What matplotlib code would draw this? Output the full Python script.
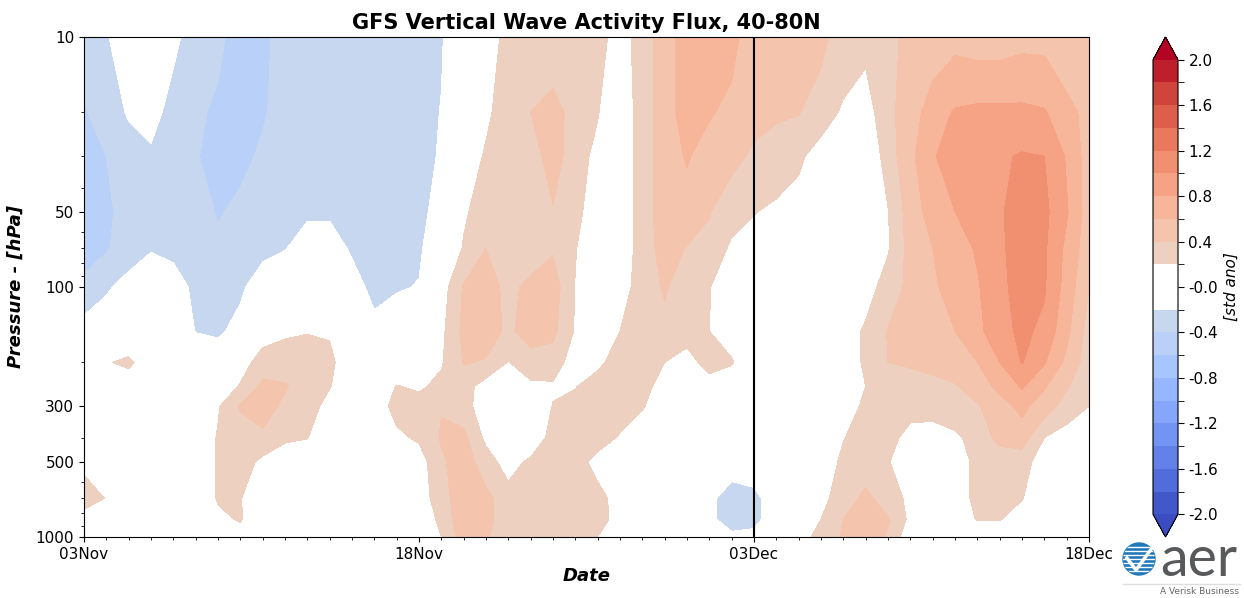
import numpy as np
import matplotlib
matplotlib.use("Agg")
import matplotlib.pyplot as plt
from matplotlib.colors import ListedColormap, BoundaryNorm
from matplotlib.ticker import FixedLocator, NullFormatter, MultipleLocator
from matplotlib.patches import Ellipse
from matplotlib.lines import Line2D

# x = days since 03Nov, y = pressure levels (hPa)
days = np.arange(46)
pressure = [10, 20, 30, 50, 70, 100, 150, 200, 250, 300, 400, 500, 700, 850, 1000]
date_ticks = [0, 15, 30, 45]
date_labels = ["03Nov", "18Nov", "03Dec", "18Dec"]
pres_ticks = [10, 50, 100, 300, 500, 1000]
today = 30  # 03Dec, analysis / forecast split

# standardized anomaly of vertical wave activity flux, one list per day (10 -> 1000 hPa)
flux = [
    [-0.30, -0.42, -0.50, -0.55, -0.48, -0.35, -0.10, 0.00, 0.00, 0.00, 0.05, 0.15, 0.30, 0.10, 0.00],
    [-0.22, -0.30, -0.40, -0.45, -0.42, -0.23, -0.05, 0.18, 0.05, 0.00, 0.00, 0.05, 0.19, 0.05, 0.00],
    [-0.05, -0.18, -0.30, -0.30, -0.30, -0.12, 0.00, 0.25, 0.05, 0.00, 0.00, 0.00, 0.05, 0.00, 0.00],
    [0.00, -0.10, -0.25, -0.30, -0.21, -0.10, 0.00, 0.05, 0.00, 0.00, 0.00, 0.00, 0.00, 0.00, 0.00],
    [-0.15, -0.30, -0.30, -0.30, -0.30, 0.00, 0.00, 0.00, 0.00, 0.00, 0.00, 0.00, 0.00, 0.00, 0.00],
    [-0.30, -0.35, -0.38, -0.30, -0.30, -0.30, -0.21, 0.00, 0.00, 0.00, 0.00, 0.00, 0.00, 0.00, 0.00],
    [-0.35, -0.45, -0.50, -0.42, -0.35, -0.35, -0.25, 0.00, 0.05, 0.18, 0.22, 0.22, 0.22, 0.15, 0.00],
    [-0.50, -0.50, -0.45, -0.35, -0.30, -0.25, -0.10, 0.10, 0.22, 0.42, 0.30, 0.30, 0.21, 0.22, 0.10],
    [-0.43, -0.42, -0.37, -0.30, -0.27, -0.05, 0.10, 0.30, 0.45, 0.50, 0.35, 0.15, 0.05, 0.00, 0.00],
    [-0.35, -0.33, -0.30, -0.30, -0.21, 0.00, 0.17, 0.30, 0.42, 0.35, 0.24, 0.05, 0.00, 0.00, 0.00],
    [-0.30, -0.30, -0.30, -0.23, -0.10, 0.00, 0.19, 0.30, 0.30, 0.30, 0.21, 0.00, 0.00, 0.00, 0.00],
    [-0.30, -0.30, -0.30, -0.23, -0.10, 0.00, 0.18, 0.25, 0.21, 0.12, 0.00, 0.00, 0.00, 0.00, 0.00],
    [-0.30, -0.30, -0.30, -0.30, -0.23, -0.10, 0.05, 0.05, 0.05, 0.05, 0.00, 0.00, 0.00, 0.00, 0.00],
    [-0.30, -0.30, -0.30, -0.30, -0.30, -0.27, -0.12, 0.00, 0.05, 0.10, 0.05, 0.00, 0.00, 0.00, 0.00],
    [-0.30, -0.30, -0.30, -0.30, -0.28, -0.22, -0.05, 0.05, 0.21, 0.26, 0.16, 0.00, 0.00, 0.00, 0.00],
    [-0.30, -0.30, -0.30, -0.27, -0.23, -0.19, 0.00, 0.05, 0.17, 0.28, 0.23, 0.10, 0.10, 0.05, 0.00],
    [-0.22, -0.19, -0.17, -0.10, -0.05, 0.10, 0.15, 0.18, 0.25, 0.39, 0.42, 0.37, 0.30, 0.25, 0.20],
    [0.00, 0.05, 0.10, 0.17, 0.22, 0.42, 0.45, 0.41, 0.30, 0.30, 0.45, 0.50, 0.55, 0.55, 0.50],
    [0.12, 0.17, 0.22, 0.30, 0.40, 0.48, 0.45, 0.39, 0.09, 0.05, 0.15, 0.30, 0.45, 0.45, 0.42],
    [0.25, 0.28, 0.30, 0.30, 0.30, 0.35, 0.38, 0.19, 0.00, 0.00, 0.00, 0.10, 0.30, 0.30, 0.30],
    [0.30, 0.40, 0.30, 0.30, 0.30, 0.45, 0.45, 0.35, 0.14, 0.00, 0.00, 0.25, 0.30, 0.30, 0.30],
    [0.25, 0.50, 0.50, 0.38, 0.38, 0.50, 0.45, 0.30, 0.17, 0.21, 0.30, 0.30, 0.30, 0.30, 0.30],
    [0.30, 0.30, 0.28, 0.25, 0.21, 0.19, 0.18, 0.10, 0.19, 0.27, 0.32, 0.30, 0.30, 0.30, 0.30],
    [0.28, 0.21, 0.15, 0.10, 0.05, 0.00, 0.00, 0.15, 0.30, 0.30, 0.30, 0.12, 0.28, 0.28, 0.20],
    [0.10, 0.05, 0.05, 0.05, 0.05, 0.10, 0.20, 0.30, 0.30, 0.30, 0.18, 0.05, 0.10, 0.12, 0.00],
    [0.30, 0.30, 0.30, 0.30, 0.30, 0.30, 0.30, 0.30, 0.28, 0.22, 0.05, 0.00, 0.00, 0.00, 0.00],
    [0.50, 0.50, 0.50, 0.50, 0.48, 0.42, 0.35, 0.20, 0.10, 0.05, 0.00, 0.00, 0.00, 0.00, 0.00],
    [0.70, 0.70, 0.62, 0.50, 0.39, 0.30, 0.28, 0.12, 0.05, 0.00, 0.00, 0.00, 0.00, 0.00, 0.00],
    [0.72, 0.62, 0.50, 0.41, 0.35, 0.21, 0.20, 0.28, 0.10, 0.00, 0.00, 0.00, -0.15, -0.15, -0.05],
    [0.65, 0.55, 0.45, 0.28, 0.16, 0.05, 0.10, 0.22, 0.05, 0.00, 0.00, -0.10, -0.30, -0.30, -0.15],
    [0.50, 0.45, 0.37, 0.21, 0.10, 0.00, 0.00, 0.00, 0.00, 0.00, 0.00, -0.10, -0.25, -0.25, -0.15],
    [0.50, 0.42, 0.33, 0.15, 0.05, 0.00, 0.00, 0.00, 0.00, 0.00, 0.00, 0.00, -0.10, -0.10, 0.00],
    [0.50, 0.41, 0.24, 0.10, 0.00, 0.00, 0.00, 0.00, 0.00, 0.00, 0.00, 0.00, 0.00, 0.00, 0.10],
    [0.45, 0.30, 0.10, 0.00, 0.00, 0.00, 0.00, 0.00, 0.00, 0.00, 0.00, 0.05, 0.14, 0.20, 0.28],
    [0.30, 0.17, 0.00, 0.00, 0.00, 0.00, 0.05, 0.05, 0.00, 0.05, 0.19, 0.25, 0.30, 0.40, 0.42],
    [0.25, 0.10, 0.00, 0.00, 0.00, 0.10, 0.24, 0.24, 0.20, 0.26, 0.30, 0.30, 0.45, 0.50, 0.50],
    [0.35, 0.35, 0.30, 0.19, 0.18, 0.30, 0.41, 0.40, 0.35, 0.30, 0.30, 0.21, 0.30, 0.42, 0.38],
    [0.45, 0.50, 0.55, 0.50, 0.48, 0.45, 0.45, 0.42, 0.33, 0.30, 0.10, 0.10, 0.15, 0.15, 0.05],
    [0.50, 0.70, 0.78, 0.68, 0.60, 0.57, 0.52, 0.45, 0.35, 0.32, 0.05, 0.05, 0.00, 0.00, 0.00],
    [0.55, 0.82, 0.90, 0.80, 0.72, 0.68, 0.60, 0.52, 0.38, 0.35, 0.15, 0.10, 0.10, 0.10, 0.00],
    [0.52, 0.85, 0.92, 0.92, 0.82, 0.78, 0.75, 0.60, 0.50, 0.38, 0.30, 0.25, 0.25, 0.21, 0.00],
    [0.52, 0.85, 0.97, 0.98, 0.97, 0.95, 0.92, 0.80, 0.65, 0.52, 0.45, 0.30, 0.28, 0.21, 0.00],
    [0.55, 0.85, 1.02, 1.08, 1.08, 1.08, 1.05, 1.01, 0.82, 0.65, 0.50, 0.28, 0.21, 0.10, 0.00],
    [0.55, 0.82, 1.00, 1.05, 1.03, 1.02, 0.95, 0.82, 0.62, 0.50, 0.20, 0.10, 0.05, 0.00, 0.00],
    [0.50, 0.65, 0.78, 0.82, 0.75, 0.72, 0.65, 0.55, 0.42, 0.32, 0.10, 0.00, 0.00, 0.00, 0.00],
    [0.45, 0.55, 0.50, 0.50, 0.48, 0.40, 0.32, 0.30, 0.25, 0.20, 0.05, 0.00, 0.00, 0.00, 0.00],
]

levels = np.round(np.arange(-2.0, 2.01, 0.2), 1)
cb_ticks = np.round(np.arange(-2.0, 2.01, 0.4), 1)
cb_labels = ["-2.0", "-1.6", "-1.2", "-0.8", "-0.4", "-0.0", "0.4", "0.8", "1.2", "1.6", "2.0"]

# coolwarm sampled at the band centres, near-zero bands blanked out
mids = (levels[:-1] + levels[1:]) / 2
cols = plt.cm.coolwarm((mids - levels[0]) / (levels[-1] - levels[0]))
cols[np.abs(mids) < 0.2] = [1, 1, 1, 1]
cmap = ListedColormap(cols)
cmap.set_under(plt.cm.coolwarm(0.0))
cmap.set_over(plt.cm.coolwarm(1.0))
norm = BoundaryNorm(levels, cmap.N)

W, H = 1244, 598
fig = plt.figure(figsize=(W / 100, H / 100), dpi=100)
ax = fig.add_axes([84 / W, 1 - 537 / H, 1005 / W, 500 / H])

Z = np.array(flux).T
cf = ax.contourf(days, pressure, Z, levels=levels, cmap=cmap, norm=norm, extend="both")
ax.axvline(today, color="k", lw=1.5)

ax.set_yscale("log")
ax.set_ylim(1000, 10)
ax.set_yticks(pres_ticks)
ax.set_yticklabels([str(p) for p in pres_ticks])
ax.yaxis.set_minor_formatter(NullFormatter())
ax.set_xlim(days[0], days[-1])
ax.set_xticks(date_ticks)
ax.set_xticklabels(date_labels)
ax.xaxis.set_minor_locator(MultipleLocator(1))
ax.tick_params(labelsize=11)

ax.set_title("GFS Vertical Wave Activity Flux, 40-80N", fontsize=15, fontweight="bold")
ax.set_xlabel("Date", fontsize=13, fontweight="bold", fontstyle="italic")
ax.set_ylabel("Pressure - [hPa]", fontsize=13, fontweight="bold", fontstyle="italic", labelpad=8)

cax = fig.add_axes([1153 / W, 1 - 537 / H, 25 / W, 500 / H])
cb = fig.colorbar(cf, cax=cax, ticks=cb_ticks, extend="both")
cb.ax.set_yticklabels(cb_labels)
cb.ax.yaxis.set_minor_locator(FixedLocator(levels))
cb.ax.tick_params(which="both", length=4, labelsize=11)
cb.set_label("[std ano]", fontsize=11, fontstyle="italic")

# AER logo (approximate)
lx, ly = 1139 / W, 1 - 559 / H
globe = Ellipse((lx, ly), 32 / W, 32 / H, transform=fig.transFigure, color="#1f78b8")
fig.add_artist(globe)
for dy in np.arange(-12, 13, 4):
    stripe = Line2D([lx - 18 / W, lx + 18 / W], [ly + dy / H, ly + dy / H],
                    transform=fig.transFigure, color="white", lw=1.0)
    stripe.set_clip_path(globe)
    fig.add_artist(stripe)
check = Line2D([1127 / W, 1136 / W, 1152 / W], [1 - 558 / H, 1 - 570 / H, 1 - 548 / H],
               transform=fig.transFigure, color="white", lw=2.5)
fig.add_artist(check)
fig.text(1160 / W, 1 - 560 / H, "aer", fontsize=40, color="#58595b", family="Lato",
         ha="left", va="center")
fig.add_artist(Line2D([1123 / W, 1240 / W], [1 - 584 / H, 1 - 584 / H],
                      transform=fig.transFigure, color="#dddddd", lw=1))
fig.text(1239 / W, 1 - 592 / H, "A Verisk Business", fontsize=6.5, color="#666666",
         ha="right", va="center")

fig.savefig("out.png", dpi=100)
